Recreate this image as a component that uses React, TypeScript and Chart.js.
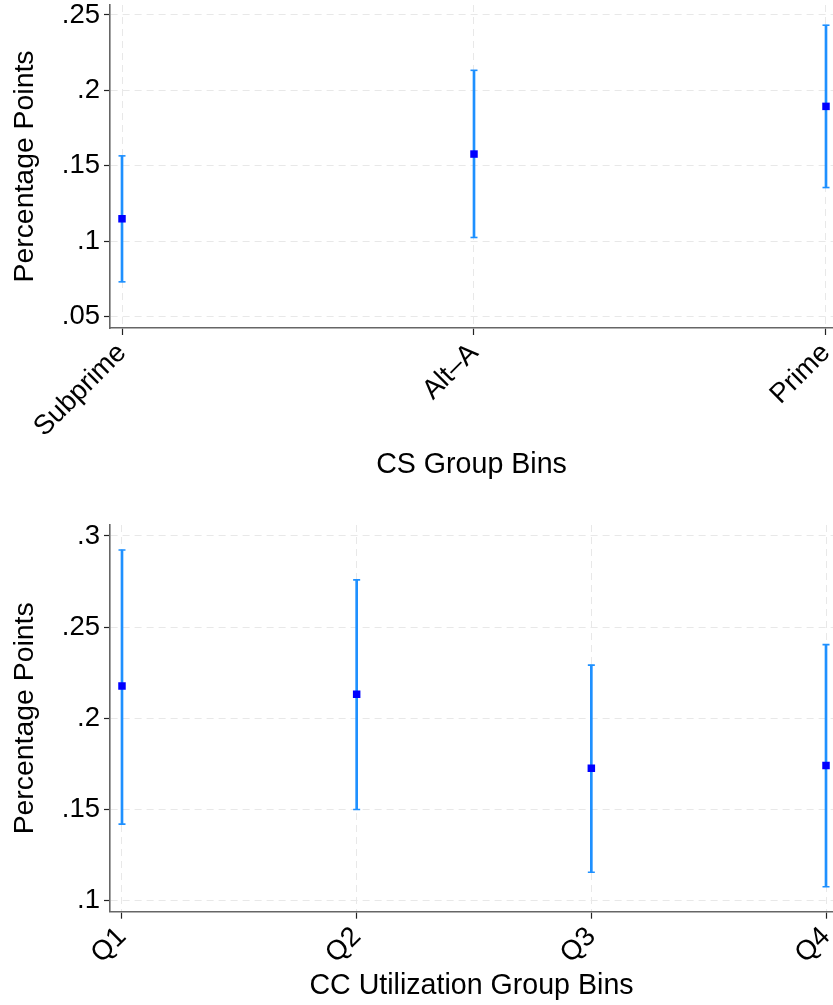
import React, { useEffect, useRef } from 'react';
import { Chart, registerables } from 'chart.js';

Chart.register(...registerables);

// ---- Data: CS group bins (top panel) ----
const csCategories = ['Subprime', 'Alt–A', 'Prime'];
const csEstimates = [0.1149, 0.1578, 0.1894];
const csLower = [0.0731, 0.1025, 0.1356];
const csUpper = [0.1566, 0.2133, 0.2432];
const csYTicks = [0.05, 0.1, 0.15, 0.2, 0.25];
const csYTickLabels = ['.05', '.1', '.15', '.2', '.25'];

// ---- Data: CC utilization group bins (bottom panel) ----
const ccCategories = ['Q1', 'Q2', 'Q3', 'Q4'];
const ccEstimates = [0.2177, 0.2132, 0.1726, 0.1742];
const ccLower = [0.142, 0.150, 0.1156, 0.1077];
const ccUpper = [0.2923, 0.2759, 0.2292, 0.2404];
const ccYTicks = [0.1, 0.15, 0.2, 0.25, 0.3];
const ccYTickLabels = ['.1', '.15', '.2', '.25', '.3'];

const FONT = "'Liberation Sans', Arial, Helvetica, sans-serif";
const ERR_COLOR = '#1e90ff';
const MARK_COLOR = '#0000ff';
const GRID_COLOR = '#e8e8e8';

type PanelProps = {
  width: number;
  height: number;
  categories: string[];
  estimates: number[];
  lower: number[];
  upper: number[];
  yTicks: number[];
  yTickLabels: string[];
  yMin: number;
  yMax: number;
  xMin: number;
  xMax: number;
  padTop: number;
  xAxisHeight: number;
  xTitle: string;
  xTitlePadBottom: number;
};

function Panel(p: PanelProps) {
  const ref = useRef<HTMLCanvasElement | null>(null);
  useEffect(() => {
    if (!ref.current) return;
    const idx = p.categories.map((_, i) => i);
    const chart = new Chart(ref.current, {
      type: 'scatter',
      data: {
        datasets: [
          {
            type: 'bar',
            data: idx.map((i) => ({ x: i, y: [p.lower[i], p.upper[i]] })) as any,
            backgroundColor: ERR_COLOR,
            borderWidth: 0,
            barThickness: 2,
            grouped: false,
            order: 3,
          } as any,
          {
            type: 'scatter',
            data: [
              ...idx.map((i) => ({ x: i, y: p.lower[i] })),
              ...idx.map((i) => ({ x: i, y: p.upper[i] })),
            ],
            pointStyle: 'line',
            pointRadius: 3.5,
            pointBorderColor: ERR_COLOR,
            pointBorderWidth: 1.6,
            order: 2,
          } as any,
          {
            type: 'scatter',
            data: idx.map((i) => ({ x: i, y: p.estimates[i] })),
            pointStyle: 'rect',
            pointRadius: 5.3,
            pointBackgroundColor: MARK_COLOR,
            pointBorderWidth: 0,
            order: 1,
          } as any,
        ],
      },
      options: {
        responsive: false,
        animation: false,
        events: [],
        devicePixelRatio: 1,
        layout: { autoPadding: false, padding: { top: p.padTop, left: 0, right: 0, bottom: 0 } },
        plugins: { legend: { display: false }, tooltip: { enabled: false } },
        scales: {
          x: {
            type: 'linear',
            min: p.xMin,
            max: p.xMax,
            offset: false,
            afterBuildTicks: (s: any) => {
              s.ticks = idx.map((i) => ({ value: i }));
            },
            afterFit: (s: any) => {
              s.height = p.xAxisHeight;
              s.paddingLeft = 0;
              s.paddingRight = 0;
            },
            grid: {
              offset: false,
              color: GRID_COLOR,
              lineWidth: 1,
              drawTicks: true,
              tickLength: 7,
              tickColor: '#222',
              tickWidth: 1.2,
              tickBorderDash: [],
            },
            border: { display: true, color: '#666', width: 1.6, dash: [7, 5] },
            ticks: {
              autoSkip: false,
              minRotation: 45,
              maxRotation: 45,
              padding: 2,
              color: '#000',
              font: { family: FONT, size: 27.5 },
              callback: (v: any) => p.categories[Math.round(Number(v))] ?? '',
            },
            title: {
              display: true,
              text: p.xTitle,
              color: '#000',
              font: { family: FONT, size: 28.6 },
              padding: { top: 0, bottom: p.xTitlePadBottom },
            },
          },
          y: {
            type: 'linear',
            min: p.yMin,
            max: p.yMax,
            afterBuildTicks: (s: any) => {
              s.ticks = p.yTicks.map((v) => ({ value: v }));
            },
            afterFit: (s: any) => {
              s.width = 110;
              s.paddingTop = 0;
              s.paddingBottom = 0;
            },
            grid: {
              color: GRID_COLOR,
              lineWidth: 1,
              drawTicks: true,
              tickLength: 6,
              tickColor: '#222',
              tickWidth: 1.2,
              tickBorderDash: [],
            },
            border: { display: true, color: '#666', width: 1.6, dash: [7, 5] },
            ticks: {
              padding: 4,
              color: '#000',
              font: { family: FONT, size: 27.5 },
              callback: (_v: any, i: number) => p.yTickLabels[i],
            },
            title: {
              display: true,
              text: 'Percentage Points',
              color: '#000',
              font: { family: FONT, size: 28.4 },
              padding: { top: 8, bottom: 0 },
            },
          },
        },
      } as any,
    });
    return () => chart.destroy();
  }, []);
  return (
    <canvas
      ref={ref}
      width={p.width}
      height={p.height}
      style={{ display: 'block', width: p.width, height: p.height }}
    />
  );
}

export default function App() {
  return (
    <div style={{ position: 'absolute', left: 0, top: 0, width: 833, height: 1005, background: '#fff' }}>
      <Panel
        width={833}
        height={500}
        categories={csCategories}
        estimates={csEstimates}
        lower={csLower}
        upper={csUpper}
        yTicks={csYTicks}
        yTickLabels={csYTickLabels}
        yMin={0.0425}
        yMax={0.2566}
        xMin={-0.0341}
        xMax={2.0199}
        padTop={5}
        xAxisHeight={172}
        xTitle="CS Group Bins"
        xTitlePadBottom={18}
      />
      <Panel
        width={833}
        height={505}
        categories={ccCategories}
        estimates={ccEstimates}
        lower={ccLower}
        upper={ccUpper}
        yTicks={ccYTicks}
        yTickLabels={ccYTickLabels}
        yMin={0.094}
        yMax={0.306}
        xMin={-0.0511}
        xMax={3.0298}
        padTop={25}
        xAxisHeight={93.3}
        xTitle="CC Utilization Group Bins"
        xTitlePadBottom={2}
      />
    </div>
  );
}
